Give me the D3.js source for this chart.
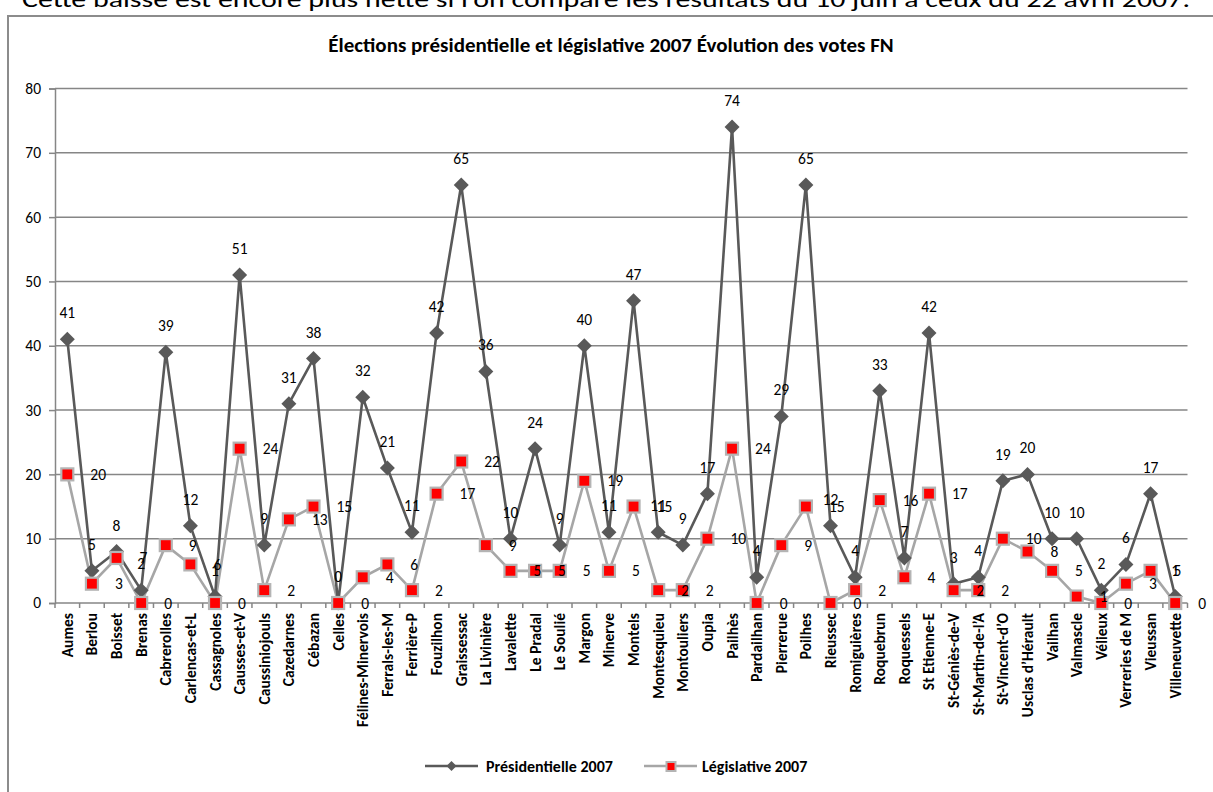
<!DOCTYPE html>
<html lang="fr">
<head>
<meta charset="utf-8">
<title>Élections présidentielle et législative 2007 — votes FN</title>
<script src="https://cdn.jsdelivr.net/npm/d3@7"></script>
<style>
  html, body { margin: 0; padding: 0; background: #fff; overflow: hidden; }
  svg { display: block; font-family: Carlito, Calibri, Lato, "Open Sans", sans-serif; }
</style>
</head>
<body>
<svg id="chart" width="1213" height="792"></svg>
<script>
// Communes
const categories = [
  "Aumes", "Berlou", "Boisset", "Brenas", "Cabrerolles", "Carlencas-et-L",
  "Cassagnoles", "Causses-et-V", "Caussiniojouls", "Cazedarnes", "Cébazan",
  "Celles", "Félines-Minervois", "Ferrals-les-M", "Ferrière-P", "Fouzilhon",
  "Graissessac", "La Livinière", "Lavalette", "Le Pradal", "Le Soulié",
  "Margon", "Minerve", "Montels", "Montesquieu", "Montouliers", "Oupia",
  "Pailhès", "Pardailhan", "Pierrerue", "Poilhes", "Rieussec", "Romiguières",
  "Roquebrun", "Roquessels", "St Etienne-E", "St-Géniès-de-V",
  "St-Martin-de-l’A", "St-Vincent-d’O", "Usclas d’Hérault", "Vailhan",
  "Valmascle", "Vélieux", "Verreries de M", "Vieussan", "Villeneuvette"
];

// Votes FN, présidentielle 2007
const presidentielle = [
  41, 5, 8, 2, 39, 12, 1, 51, 9, 31, 38, 0, 32, 21, 11, 42, 65, 36, 10, 24,
  9, 40, 11, 47, 11, 9, 17, 74, 4, 29, 65, 12, 4, 33, 7, 42, 3, 4, 19, 20,
  10, 10, 2, 6, 17, 1
];

// Votes FN, législative 2007
const legislative = [
  20, 3, 7, 0, 9, 6, 0, 24, 2, 13, 15, 0, 4, 6, 2, 17, 22, 9, 5, 5,
  5, 19, 5, 15, 2, 2, 10, 24, 0, 9, 15, 0, 2, 16, 4, 17, 2, 2, 10, 8,
  5, 1, 0, 3, 5, 0
];

const yTicks = [0, 10, 20, 30, 40, 50, 60, 70, 80];
const seriesNames = ["Présidentielle 2007", "Législative 2007"];
const chartTitle = "Élections présidentielle et législative 2007 Évolution des votes FN";
const pageText = "Cette baisse est encore plus nette si l’on compare les résultats du 10 juin à ceux du 22 avril 2007.";

const FS = 15.5; // body text size

const svg = d3.select("#chart");

// Surrounding document line, partly cut by the page edge
svg.append("text")
  .attr("x", 22).attr("y", 7)
  .attr("textLength", 1168).attr("lengthAdjust", "spacingAndGlyphs")
  .attr("font-size", 22).attr("fill", "#000")
  .text(pageText);

// Chart frame
svg.append("rect")
  .attr("x", 8).attr("y", 16)
  .attr("width", 1240).attr("height", 820)
  .attr("fill", "#fff").attr("stroke", "#8c8c8c").attr("stroke-width", 2);

// Title
svg.append("text")
  .attr("x", 611).attr("y", 52)
  .attr("text-anchor", "middle")
  .attr("font-size", 21).attr("font-weight", "bold").attr("fill", "#000")
  .text(chartTitle);

const plot = { left: 55, right: 1187.5, top: 88.5, bottom: 603 };

const x = d3.scaleBand().domain(categories).range([plot.left, plot.right]).padding(0);
const y = d3.scaleLinear().domain([0, 80]).range([plot.bottom, plot.top]);
const cx = d => x(d) + x.bandwidth() / 2;

// Horizontal gridlines
svg.append("g")
  .selectAll("line")
  .data(yTicks.filter(t => t > 0))
  .join("line")
  .attr("x1", plot.left).attr("x2", plot.right)
  .attr("y1", d => y(d)).attr("y2", d => y(d))
  .attr("stroke", "#868686").attr("stroke-width", 1.5);

// Y axis
const yAxis = svg.append("g")
  .attr("transform", `translate(${plot.left},0)`)
  .call(d3.axisLeft(y).tickValues(yTicks).tickSize(6).tickPadding(8));
yAxis.select(".domain").attr("stroke", "#868686").attr("stroke-width", 1.5);
yAxis.selectAll(".tick line").attr("stroke", "#868686").attr("stroke-width", 1.5);
yAxis.selectAll(".tick text")
  .attr("font-family", "Carlito, Calibri, Lato, sans-serif")
  .attr("font-size", FS).attr("fill", "#000");

// X axis: ticks on category boundaries
const xAxis = svg.append("g");
xAxis.append("line")
  .attr("x1", plot.left).attr("x2", plot.right)
  .attr("y1", plot.bottom).attr("y2", plot.bottom)
  .attr("stroke", "#868686").attr("stroke-width", 1.5);
xAxis.selectAll("line.tick")
  .data(d3.range(categories.length + 1))
  .join("line")
  .attr("class", "tick")
  .attr("x1", i => plot.left + i * x.bandwidth())
  .attr("x2", i => plot.left + i * x.bandwidth())
  .attr("y1", plot.bottom).attr("y2", plot.bottom + 5)
  .attr("stroke", "#868686").attr("stroke-width", 1.5);
xAxis.selectAll("text")
  .data(categories)
  .join("text")
  .attr("transform", d => `translate(${cx(d) + 5.5},${plot.bottom + 10}) rotate(-90)`)
  .attr("text-anchor", "end")
  .attr("font-size", FS).attr("font-weight", "bold").attr("fill", "#000")
  .text(d => d);

const presData = categories.map((c, i) => ({ c, v: presidentielle[i] }));
const legData = categories.map((c, i) => ({ c, v: legislative[i] }));

const line = d3.line().x(d => cx(d.c)).y(d => y(d.v));

// Législative series (drawn beneath)
svg.append("path")
  .datum(legData)
  .attr("d", line)
  .attr("fill", "none").attr("stroke", "#a6a6a6").attr("stroke-width", 2.6)
  .attr("stroke-linejoin", "round");

// Présidentielle series
svg.append("path")
  .datum(presData)
  .attr("d", line)
  .attr("fill", "none").attr("stroke", "#595959").attr("stroke-width", 2.6)
  .attr("stroke-linejoin", "round");

const diamond = r => `M0,${-r}L${r},0L0,${r}L${-r},0Z`;

svg.append("g")
  .selectAll("path")
  .data(presData)
  .join("path")
  .attr("transform", d => `translate(${cx(d.c)},${y(d.v)})`)
  .attr("d", diamond(7.5))
  .attr("fill", "#595959");

svg.append("g")
  .selectAll("rect")
  .data(legData)
  .join("rect")
  .attr("x", d => cx(d.c) - 6).attr("y", d => y(d.v) - 6)
  .attr("width", 12).attr("height", 12)
  .attr("fill", "#ff0000").attr("stroke", "#b4b4b4").attr("stroke-width", 2.2);

// Value labels
svg.append("g")
  .selectAll("text")
  .data(presData)
  .join("text")
  .attr("x", d => cx(d.c)).attr("y", d => y(d.v) - 21)
  .attr("text-anchor", "middle")
  .attr("font-size", FS).attr("fill", "#000")
  .text(d => d.v);

svg.append("g")
  .selectAll("text")
  .data(legData)
  .join("text")
  .attr("x", d => cx(d.c) + 23).attr("y", d => y(d.v) + 5.5)
  .attr("text-anchor", "start")
  .attr("font-size", FS).attr("fill", "#000")
  .text(d => d.v);

// Legend
const legendY = 766;
const lg = svg.append("g");
lg.append("line").attr("x1", 425).attr("x2", 478).attr("y1", legendY).attr("y2", legendY)
  .attr("stroke", "#595959").attr("stroke-width", 2.6);
lg.append("path").attr("transform", `translate(451.5,${legendY})`).attr("d", diamond(5)).attr("fill", "#595959");
lg.append("text").attr("x", 486).attr("y", legendY + 5.5)
  .attr("font-size", 16).attr("font-weight", "bold").attr("fill", "#000").text(seriesNames[0]);

lg.append("line").attr("x1", 644).attr("x2", 697).attr("y1", legendY).attr("y2", legendY)
  .attr("stroke", "#a6a6a6").attr("stroke-width", 2.6);
lg.append("rect").attr("x", 666.5).attr("y", legendY - 4).attr("width", 9).attr("height", 9)
  .attr("fill", "#ff0000").attr("stroke", "#b4b4b4").attr("stroke-width", 2);
lg.append("text").attr("x", 702).attr("y", legendY + 5.5)
  .attr("font-size", 16).attr("font-weight", "bold").attr("fill", "#000").text(seriesNames[1]);
</script>
</body>
</html>
